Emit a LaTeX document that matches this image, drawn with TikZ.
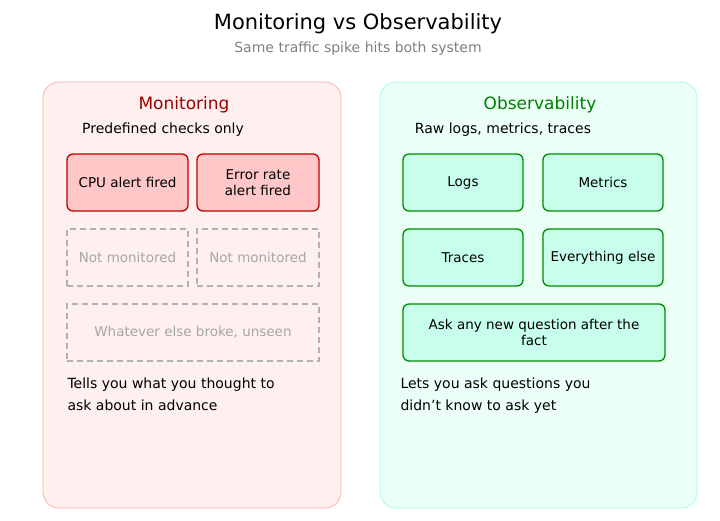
\documentclass[tikz,border=0pt]{standalone}
\usepackage{fontspec}
\setmainfont{DejaVu Sans}
\begin{document}
\begin{tikzpicture}[x=1pt,y=-1pt,
  panelL/.style={draw=red!30, fill=red!6, rounded corners=16pt, line width=0.8pt},
  panelR/.style={draw=green!45!cyan!35, fill=green!40!cyan!8, rounded corners=16pt, line width=0.8pt},
  red box/.style={draw=red!75!black, fill=red!22, rounded corners=6pt, line width=1.3pt, align=center, font=\fontsize{13.5}{16}\selectfont},
  dash box/.style={draw=gray!60, dashed, dash pattern=on 6pt off 4pt, line width=1.2pt, align=center, text=gray!70, font=\fontsize{13.5}{16}\selectfont},
  green box/.style={draw=green!55!black, fill=green!35!cyan!22, rounded corners=6pt, line width=1.3pt, align=center, font=\fontsize{13.5}{16}\selectfont},
  txt/.style={font=\fontsize{14}{22}\selectfont, align=left, anchor=north west}]
\useasboundingbox (0,0) rectangle (720,521);
\fill[white] (0,0) rectangle (720,521);
\node (title) at (358,24) {\fontsize{21}{24}\selectfont Monitoring vs Observability};
\node[text=gray] (sub) at (358,49) {\fontsize{14}{16}\selectfont Same traffic spike hits both system};
\draw[panelL] (43,82) rectangle (341,508);
\draw[panelR] (380,82) rectangle (697,508);
\node[text=red!60!black] (mt) at (184,105) {\fontsize{17}{20}\selectfont Monitoring};
\node (mst) at (163,130) {\fontsize{14}{16}\selectfont Predefined checks only};
\node[red box, minimum width=121pt, minimum height=57pt] (cpu) at (127.5,182.5) {CPU alert fired};
\node[red box, minimum width=122pt, minimum height=57pt] (err) at (258,182.5) {Error rate\\alert fired};
\node[dash box, minimum width=121pt, minimum height=57pt] (nm1) at (127.5,257.5) {Not monitored};
\node[dash box, minimum width=122pt, minimum height=57pt] (nm2) at (258,257.5) {Not monitored};
\node[dash box, minimum width=252pt, minimum height=57pt] (we) at (193,332.5) {Whatever else broke, unseen};
\node[txt] (lt) at (64,374) {Tells you what you thought to\\ask about in advance};
\node[text=green!50!black] (ot) at (540,105) {\fontsize{17}{20}\selectfont Observability};
\node (ost) at (503,130) {\fontsize{14}{16}\selectfont Raw logs, metrics, traces};
\node[green box, minimum width=120pt, minimum height=57pt] (logs) at (463,182.5) {Logs};
\node[green box, minimum width=120pt, minimum height=57pt] (met) at (603,182.5) {Metrics};
\node[green box, minimum width=120pt, minimum height=57pt] (tr) at (463,257.5) {Traces};
\node[green box, minimum width=120pt, minimum height=57pt] (ee) at (603,257.5) {Everything else};
\node[green box, minimum width=262pt, minimum height=57pt] (ask) at (534,332.5) {Ask any new question after the\\fact};
\node[txt] (rt) at (397,374) {Lets you ask questions you\\didn't know to ask yet};
\end{tikzpicture}
\end{document}
